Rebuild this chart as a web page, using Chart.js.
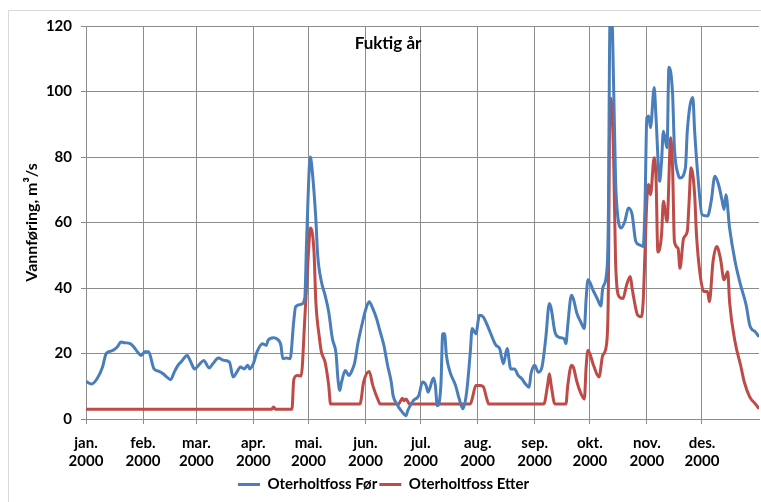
<!DOCTYPE html>
<html>
<head>
<meta charset="utf-8">
<script src="https://cdn.jsdelivr.net/npm/chart.js@4"></script>
<style>
html, body { margin: 0; padding: 0; background: #fff; overflow: hidden; }
#frame { position: absolute; left: 8px; top: 10px; width: 800px; height: 600px; border: 1px solid #d9d9d9; }
#wrap { position: absolute; left: 0; top: 0; width: 761px; height: 502px; }
</style>
</head>
<body>
<div id="frame"></div>
<div id="wrap"><canvas id="chart"></canvas></div>
<script>
// data (day of year 2000, m3/s)

const monthStarts = [0, 31, 60, 91, 121, 152, 182, 213, 244, 274, 305, 335];
const monthLabels = ['jan.', 'feb.', 'mar.', 'apr.', 'mai.', 'jun.', 'jul.', 'aug.', 'sep.', 'okt.', 'nov.', 'des.'];
const yearLabel = '2000';

const daysFor = [0, 3, 6, 9, 11, 14, 17, 19, 21, 24, 26, 28, 30, 32, 34, 37, 40, 42, 44, 46, 48, 50, 52, 55, 57, 59,
    62, 64, 67, 69, 72, 75, 78, 80, 82, 84, 86, 88, 89, 91, 93, 96, 98, 99, 102, 104, 106, 107, 109, 111, 113, 114,
    117, 119, 120, 122, 123, 125, 126, 128, 130, 132, 134, 136, 137, 138, 139, 141, 143, 145, 146, 148, 150, 152,
    154, 156, 158, 160, 162, 164, 166, 167, 169, 172, 174, 175, 178, 181, 183, 185, 186, 189, 190, 191, 193, 194,
    195, 196, 198, 201, 203, 205, 207, 209, 210, 212, 214, 216, 219, 222, 223, 225, 227, 229, 231, 233, 235, 237,
    239, 241, 242, 244, 246, 248, 250, 252, 253, 255, 257, 260, 261, 262, 264, 265, 267, 269, 271, 272, 273, 276,
    278, 280, 281, 283, 284, 285, 286, 287, 288, 289, 291, 293, 295, 297, 299, 301, 303, 304, 305, 306, 307, 309,
    310, 312, 313, 314, 316, 317, 319, 320, 322, 323, 326, 327, 330, 331, 333, 335, 338, 340, 342, 344, 346, 347,
    348, 350, 353, 356, 359, 361, 364, 366];
const flowFor = [11.5, 10.7, 12.3, 15.9, 20, 20.8, 22, 23.5, 23.3, 23, 22, 20.5, 19.4, 20.5, 20.5, 15.3, 14.5, 13.8,
    12.8, 12, 14.3, 16.4, 17.6, 19.4, 17.4, 15.3, 16.9, 17.9, 15.6, 16.9, 18.6, 17.9, 17.4, 12.8, 14.3, 15.9, 15.3,
    16.4, 15.3, 16.9, 20.5, 23, 22.5, 24, 24.8, 24.4, 22.5, 18.4, 18.6, 18.4, 30, 34.3, 35, 37, 55, 80, 76, 61, 50,
    42, 37.8, 32.7, 24.5, 19.9, 12.3, 8.7, 11.3, 14.8, 13.3, 15.3, 16.9, 23.5, 28.6, 33.2, 35.8, 33.7, 30.7, 26.6,
    22.5, 16.4, 11.3, 7.2, 4.6, 2.1, 1, 2.6, 5.6, 7.2, 11.3, 10.2, 8.2, 12.5, 10.2, 4.1, 10.3, 26, 26, 19.4, 14.3,
    10.2, 6.1, 3.1, 8.2, 20.5, 27.6, 26, 31.7, 31.2, 27.6, 23.5, 22.5, 21.4, 16.9, 21.5, 15.3, 15.3, 13.3, 12.3,
    10.7, 9.7, 13.8, 16.4, 14.3, 15.9, 24.5, 35.3, 33.7, 26.6, 25, 24.5, 23, 28.6, 37.8, 36.8, 32.2, 29.7, 27.6,
    36.8, 42.5, 39, 36.8, 34.5, 39.9, 44, 58, 122, 122, 100, 73, 63, 58.3, 60.3, 64.4, 62.4, 54.2, 53.2, 52.7, 65,
    92, 92.5, 89, 101.2, 92, 72.6, 78.7, 87.9, 82.8, 107.4, 99.2, 82.8, 74.7, 73.6, 76.7, 87.9, 98.2, 87.9, 72.6,
    62.4, 62, 66.5, 74.1, 71.6, 66.5, 64, 68.5, 58.3, 48.1, 40.9, 34.8, 28.6, 26.6, 25.1];

const daysEtter = [0, 101, 102, 103, 112, 113, 115, 117, 119, 121, 122, 124, 125, 127, 128, 130, 132, 133, 149, 151,
    154, 156, 159, 160, 170, 172, 173, 174, 176, 209, 210, 212, 214, 216, 218, 219, 249, 251, 252, 253, 255, 261,
    262, 264, 265, 267, 269, 271, 272, 273, 276, 279, 281, 283, 284, 285, 286, 287, 288, 290, 292, 294, 296, 297,
    299, 300, 302, 303, 304, 305, 306, 307, 309, 310, 311, 313, 314, 316, 318, 319, 320, 322, 323, 325, 327, 328,
    329, 331, 332, 334, 336, 338, 339, 341, 343, 345, 347, 349, 350, 353, 356, 358, 361, 364, 366];
const flowEtter = [3, 3, 3.7, 3, 3, 12, 13.3, 13.1, 30.7, 51, 58.3, 51, 35.8, 24.5, 20.5, 17.4, 10.2, 4.6, 4.6, 11.3,
    14.5, 10.2, 5.6, 4.6, 4.6, 6.3, 5.6, 6.1, 4.6, 4.6, 6.1, 10.2, 10.2, 9.9, 6.1, 4.6, 4.6, 10.2, 13.8, 10.2, 4.6,
    4.6, 10.2, 16.4, 15.9, 11.3, 8, 6.1, 16, 21, 16.4, 12.8, 19.4, 22.5, 36, 98, 95, 78, 48, 37.3, 36.8, 40.9, 43.5,
    39.9, 33.7, 31.7, 31.2, 35.8, 51, 66.5, 71.6, 68.5, 79.8, 73.6, 51, 56.3, 66.5, 60.3, 85.9, 76.7, 54.2, 52.1,
    46, 55.2, 57.3, 66.5, 76.7, 68.5, 56.3, 44, 38.9, 38.9, 35.8, 48.1, 52.7, 49.1, 42.5, 45, 35.8, 23.5, 16.4,
    11.3, 6.7, 4.6, 3.1];

const toPoints = (days, values) => days.map((d, i) => ({ x: d, y: values[i] }));

const boldFont = (size) => ({ family: 'Lato, "Open Sans", sans-serif', size: size, weight: 'bold' });

// title inside the plot
const innerTitle = {
    id: 'innerTitle',
    afterDraw(chart) {
        const c = chart.ctx;
        c.save();
        c.font = 'bold 17px Lato, sans-serif';
        c.fillStyle = '#000';
        c.textAlign = 'center';
        c.textBaseline = 'middle';
        c.fillText('Fuktig år', 388, 44);
        c.restore();
    }
};

new Chart(document.getElementById('chart'), {
    type: 'line',
    data: {
        datasets: [{
            label: 'Oterholtfoss Før',
            data: toPoints(daysFor, flowFor),
            borderColor: '#4a7ebb',
            backgroundColor: '#4a7ebb',
            borderWidth: 3,
            pointRadius: 0,
            cubicInterpolationMode: 'monotone'
        },
            {
                label: 'Oterholtfoss Etter',
                data: toPoints(daysEtter, flowEtter),
                borderColor: '#be4b48',
                backgroundColor: '#be4b48',
                borderWidth: 3,
                pointRadius: 0,
                cubicInterpolationMode: 'monotone'
            }
        ]
    },
    options: {
        responsive: true,
        maintainAspectRatio: false,
        animation: false,
        layout: {
            padding: { left: 8, right: 2, top: 26, bottom: 0 }
        },
        scales: {
            x: {
                type: 'linear',
                min: 0,
                max: 366,
                afterBuildTicks: (axis) => {
                    axis.ticks = monthStarts.map(v => ({ value: v }));
                },
                afterFit: (axis) => { axis.height -= 5; },
                ticks: {
                    autoSkip: false,
                    maxRotation: 0,
                    padding: 10,
                    color: '#000',
                    font: boldFont(15),
                    callback: (value, index) => [monthLabels[index], yearLabel]
                },
                grid: { color: '#8c8c8c', tickLength: 5 },
                border: { color: '#8c8c8c' }
            },
            y: {
                min: 0,
                max: 120,
                afterFit: (axis) => { axis.width = 78; },
                ticks: {
                    stepSize: 20,
                    padding: 9,
                    color: '#000',
                    font: boldFont(15)
                },
                title: {
                    display: true,
                    text: 'Vannføring, m³/s',
                    color: '#000',
                    font: boldFont(16),
                    padding: { top: 14, bottom: 0 }
                },
                grid: { color: '#8c8c8c', tickLength: 5 },
                border: { color: '#8c8c8c' }
            }
        },
        plugins: {
            legend: {
                position: 'bottom',
                labels: {
                    usePointStyle: true,
                    pointStyle: 'line',
                    pointStyleWidth: 22,
                    padding: 2,
                    color: '#000',
                    font: boldFont(15)
                }
            },
            tooltip: { enabled: false }
        }
    },
    plugins: [innerTitle]
});
</script>
</body>
</html>
